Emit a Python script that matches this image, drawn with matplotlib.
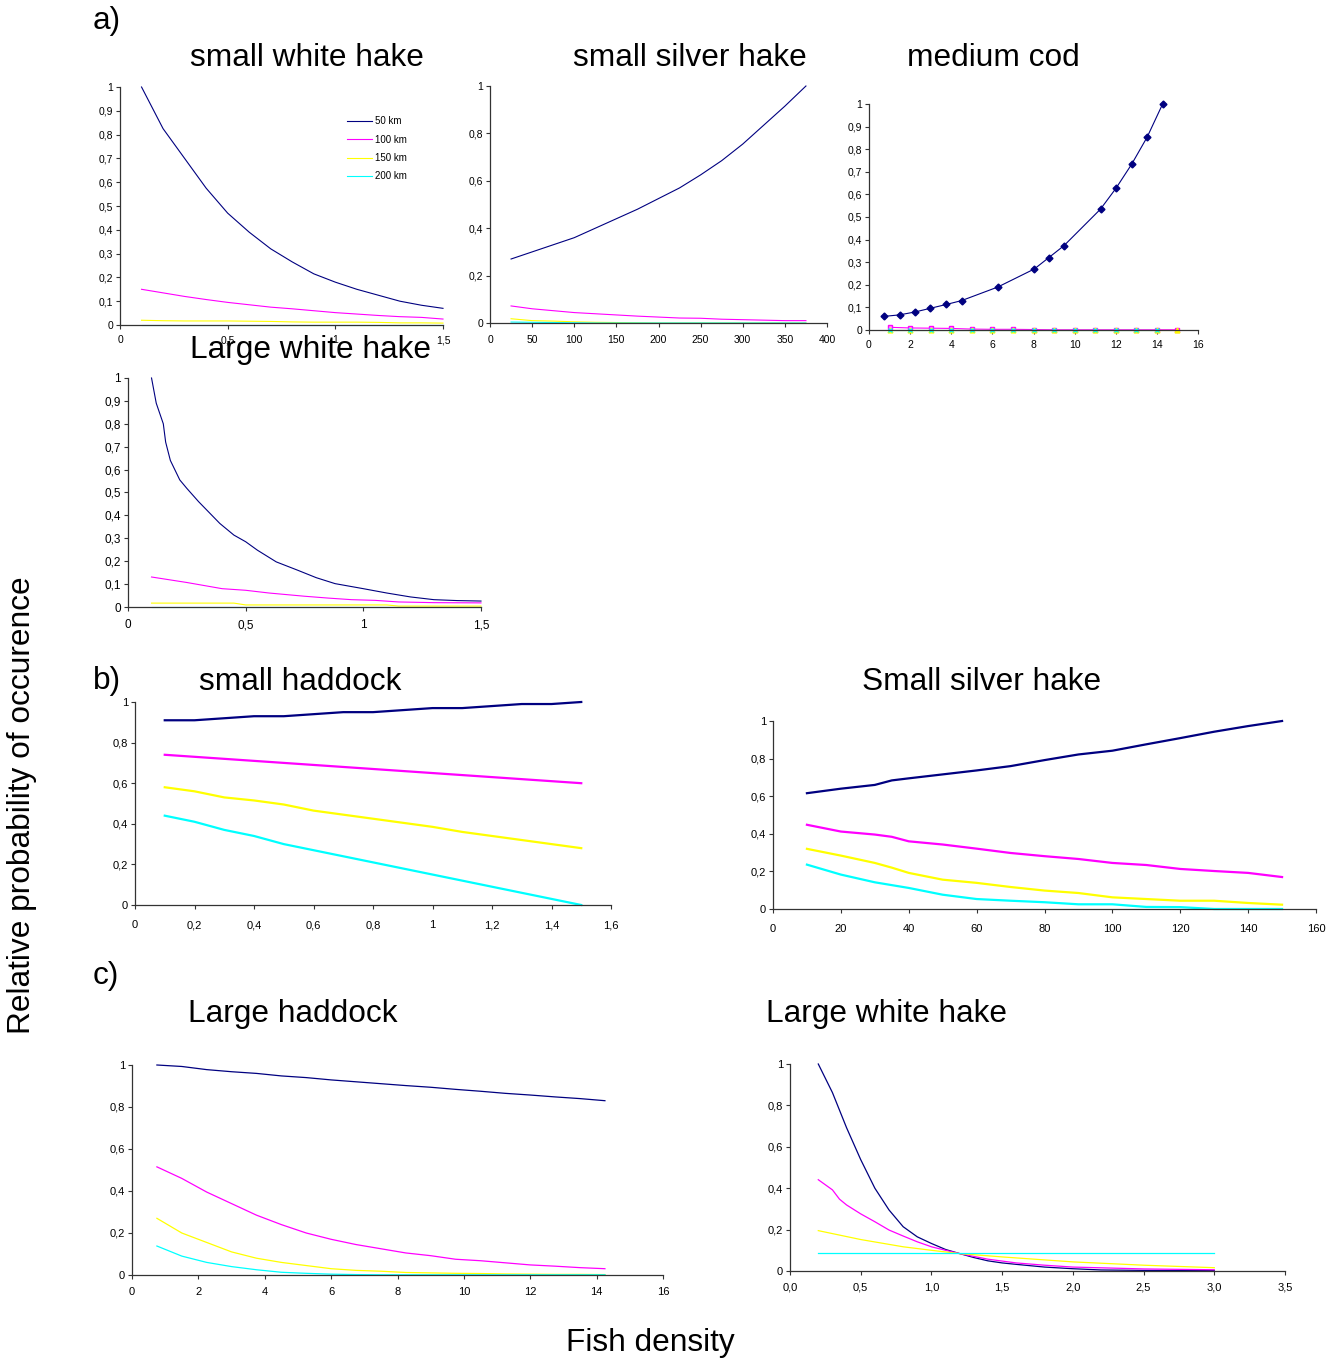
"""
Relative probability of occurrence vs fish density, redrawn as eight panels.
"""
import matplotlib
matplotlib.use('Agg')
import matplotlib.pyplot as plt
from matplotlib.ticker import FuncFormatter, MultipleLocator

plt.rcParams['font.family'] = ['Liberation Sans', 'DejaVu Sans']

W, H = 1334, 1360
NAVY, MAG, YEL, CYAN = '#000080', '#FF00FF', '#FFFF00', '#00FFFF'
AXC = '#333333'
labels = ['50 km', '100 km', '150 km', '200 km']

# a) small white hake
swh_x = [0.1, 0.2, 0.3, 0.4, 0.5, 0.6, 0.7, 0.8, 0.9, 1.0, 1.1, 1.2, 1.3, 1.4, 1.5]
swh_50 = [1.0, 0.825, 0.70, 0.575, 0.47, 0.39, 0.32, 0.265, 0.215, 0.18, 0.15, 0.125, 0.10, 0.083, 0.07]
swh_100 = [0.15, 0.135, 0.12, 0.107, 0.095, 0.085, 0.075, 0.068, 0.06, 0.052, 0.046, 0.04, 0.035, 0.032, 0.025]
swh_150 = [0.02, 0.018, 0.017, 0.017, 0.017, 0.016, 0.015, 0.013, 0.012, 0.012, 0.012, 0.011, 0.009, 0.009, 0.008]
swh_200 = [0.002, 0.002, 0.002, 0.002, 0.002, 0.002, 0.002, 0.002, 0.002, 0.002, 0.002, 0.002, 0.002, 0.002, 0.002]

# a) small silver hake
ssh_x = [25, 50, 75, 100, 125, 150, 175, 200, 225, 250, 275, 300, 325, 350, 375]
ssh_50 = [0.27, 0.30, 0.33, 0.36, 0.40, 0.44, 0.48, 0.525, 0.57, 0.625, 0.685, 0.755, 0.835, 0.915, 1.0]
ssh_100 = [0.072, 0.06, 0.052, 0.044, 0.039, 0.034, 0.029, 0.025, 0.021, 0.02, 0.016, 0.014, 0.012, 0.01, 0.01]
ssh_150 = [0.018, 0.01, 0.008, 0.005, 0.003, 0.002, 0.001, 0.0, 0.0, 0.0, 0.0, 0.0, 0.0, 0.0, 0.0]
ssh_200 = [0.004, 0.003, 0.002, 0.001, 0.0, 0.0, 0.0, 0.0, 0.0, 0.0, 0.0, 0.0, 0.0, 0.0, 0.0]

# a) medium cod
cod_x50 = [0.71, 1.49, 2.25, 2.98, 3.76, 4.5, 6.26, 8.04, 8.74, 9.48, 11.26, 12.01, 12.77, 13.53, 14.28]
cod_50 = [0.06, 0.067, 0.08, 0.096, 0.113, 0.13, 0.19, 0.27, 0.32, 0.373, 0.535, 0.627, 0.733, 0.854, 1.0]
cod_x = [1, 2, 3, 4, 5, 6, 7, 8, 9, 10, 11, 12, 13, 14, 15]
cod_100 = [0.012, 0.009, 0.008, 0.007, 0.004, 0.003, 0.003, 0.002, 0.001, 0.001, 0.001, 0.001, 0.001, 0.001, 0.001]
cod_150 = [0.0, 0.0, 0.0, 0.0, 0.0, 0.0, 0.0, 0.0, 0.0, 0.0, 0.0, 0.0, 0.0, 0.0, 0.0]
cod_x200 = [1, 2, 3, 4, 5, 6, 7, 8, 9, 10, 11, 12, 13, 14]
cod_200 = [0.0, 0.0, 0.0, 0.0, 0.0, 0.0, 0.0, 0.0, 0.0, 0.0, 0.0, 0.0, 0.0, 0.0]

# a) Large white hake
lwh_x50 = [0.1, 0.12, 0.15, 0.16, 0.18, 0.22, 0.25, 0.3, 0.39, 0.45, 0.5, 0.55, 0.63, 0.72,
           0.8, 0.88, 1.0, 1.1, 1.2, 1.3, 1.4, 1.5]
lwh_50 = [1.0, 0.89, 0.80, 0.72, 0.64, 0.555, 0.518, 0.46, 0.365, 0.314, 0.285, 0.248, 0.197, 0.161,
          0.128, 0.102, 0.08, 0.061, 0.044, 0.032, 0.028, 0.026]
lwh_x100 = [0.1, 0.25, 0.4, 0.5, 0.6, 0.75, 0.85, 0.95, 1.05, 1.15, 1.3, 1.5]
lwh_100 = [0.131, 0.107, 0.08, 0.073, 0.061, 0.047, 0.039, 0.032, 0.029, 0.022, 0.019, 0.018]
lwh_x150 = [0.1, 0.45, 0.5, 1.1, 1.15, 1.5]
lwh_150 = [0.017, 0.017, 0.009, 0.009, 0.004, 0.004]
lwh_x200 = [0.1, 1.5]
lwh_200 = [0.001, 0.001]

# b) small haddock
shd_x = [0.1, 0.2, 0.3, 0.4, 0.5, 0.6, 0.7, 0.8, 0.9, 1.0, 1.1, 1.2, 1.3, 1.4, 1.5]
shd_50 = [0.91, 0.91, 0.92, 0.93, 0.93, 0.94, 0.95, 0.95, 0.96, 0.97, 0.97, 0.98, 0.99, 0.99, 1.0]
shd_100 = [0.74, 0.73, 0.72, 0.71, 0.70, 0.69, 0.68, 0.67, 0.66, 0.65, 0.64, 0.63, 0.62, 0.61, 0.60]
shd_150 = [0.58, 0.56, 0.53, 0.515, 0.495, 0.465, 0.445, 0.425, 0.405, 0.385, 0.36, 0.34, 0.32, 0.30, 0.28]
shd_200 = [0.44, 0.41, 0.37, 0.34, 0.30, 0.27, 0.24, 0.21, 0.18, 0.15, 0.12, 0.09, 0.06, 0.03, 0.0]

# b) Small silver hake
ssb_x = [10, 20, 30, 35, 40, 50, 60, 70, 80, 90, 100, 110, 120, 130, 140, 150]
ssb_50 = [0.616, 0.64, 0.66, 0.684, 0.695, 0.716, 0.737, 0.76, 0.792, 0.822, 0.842, 0.876, 0.909, 0.943, 0.973, 1.0]
ssb_100 = [0.448, 0.412, 0.396, 0.384, 0.36, 0.343, 0.321, 0.298, 0.281, 0.266, 0.245, 0.234, 0.213, 0.202, 0.192, 0.17]
ssb_150 = [0.32, 0.284, 0.245, 0.22, 0.192, 0.156, 0.139, 0.117, 0.098, 0.085, 0.062, 0.053, 0.044, 0.044, 0.032, 0.023]
ssb_200 = [0.236, 0.183, 0.142, 0.127, 0.112, 0.076, 0.053, 0.044, 0.036, 0.025, 0.025, 0.011, 0.01, 0.0, 0.0, 0.0]

# c) Large haddock
lhd_x = [0.75, 1.5, 2.25, 3.0, 3.75, 4.5, 5.25, 6.0, 6.75, 7.5, 8.25, 9.0, 9.75, 10.5, 11.25, 12.0, 12.75, 13.5, 14.25]
lhd_50 = [1.0, 0.993, 0.978, 0.968, 0.96, 0.948, 0.94, 0.929, 0.92, 0.911, 0.902, 0.894, 0.884, 0.875,
          0.865, 0.857, 0.848, 0.84, 0.83]
lhd_100 = [0.515, 0.46, 0.395, 0.34, 0.285, 0.24, 0.20, 0.17, 0.145, 0.125, 0.105, 0.092, 0.075, 0.068,
           0.058, 0.048, 0.042, 0.035, 0.03]
lhd_150 = [0.27, 0.2, 0.155, 0.11, 0.08, 0.06, 0.045, 0.03, 0.022, 0.018, 0.012, 0.01, 0.008, 0.007,
           0.005, 0.004, 0.003, 0.003, 0.002]
lhd_200 = [0.138, 0.09, 0.06, 0.04, 0.025, 0.013, 0.008, 0.004, 0.002, 0.001, 0.001, 0.001, 0.001, 0.001,
           0.001, 0.001, 0.001, 0.001, 0.001]

# c) Large white hake
lwc_x50 = [0.2, 0.3, 0.4, 0.5, 0.6, 0.7, 0.8, 0.9, 1.0, 1.1, 1.2, 1.3, 1.4, 1.5, 1.6, 1.8, 2.0, 2.2, 2.5, 3.0]
lwc_50 = [1.0, 0.862, 0.692, 0.538, 0.40, 0.295, 0.214, 0.165, 0.133, 0.104, 0.084, 0.065, 0.049, 0.039,
          0.032, 0.019, 0.011, 0.005, 0.003, 0.002]
lwc_x100 = [0.2, 0.3, 0.35, 0.4, 0.5, 0.6, 0.7, 0.8, 0.9, 1.0, 1.1, 1.2, 1.4, 1.6, 1.8, 2.0, 2.5, 3.0]
lwc_100 = [0.441, 0.392, 0.347, 0.319, 0.276, 0.238, 0.198, 0.169, 0.141, 0.117, 0.1, 0.084, 0.057, 0.039,
           0.028, 0.019, 0.01, 0.006]
lwc_x150 = [0.2, 0.5, 0.8, 1.0, 1.2, 1.5, 2.0, 2.5, 3.0]
lwc_150 = [0.195, 0.152, 0.117, 0.1, 0.084, 0.068, 0.044, 0.028, 0.016]
lwc_x200 = [0.2, 3.0]
lwc_200 = [0.0875, 0.0875]


def add_panel(fig, box, xmax, xstep, ystep, fs, xpad, xfmt='g'):
    """box = (left, top, right, bottom) in pixels of the reference image."""
    x0, y0, x1, y1 = box
    ax = fig.add_axes([x0 / W, 1 - y1 / H, (x1 - x0) / W, (y1 - y0) / H])
    ax.set_xlim(0, xmax)
    ax.set_ylim(0, 1)
    for s in ['top', 'right']:
        ax.spines[s].set_visible(False)
    for s in ['left', 'bottom']:
        ax.spines[s].set_color(AXC)
        ax.spines[s].set_linewidth(0.9)
    ax.xaxis.set_major_locator(MultipleLocator(xstep))
    ax.yaxis.set_major_locator(MultipleLocator(ystep))
    ax.xaxis.set_major_formatter(FuncFormatter(lambda v, p: format(v, xfmt).replace('.', ',')))
    ax.yaxis.set_major_formatter(FuncFormatter(lambda v, p: format(v, 'g').replace('.', ',')))
    ax.tick_params(length=3, width=0.8, pad=2, labelsize=fs, color=AXC)
    ax.tick_params(axis='x', pad=xpad)
    return ax


def draw(ax, series, lw, **kw):
    for (x, y), c, lab in zip(series, [NAVY, MAG, YEL, CYAN], labels):
        ax.plot(x, y, color=c, lw=lw, label=lab, clip_on=False, **kw)


def main():
    fig = plt.figure(figsize=(W / 100, H / 100), dpi=100)

    def ftext(x, y, s, **kw):
        fig.text(x / W, 1 - y / H, s, fontsize=22.8, **kw)

    # a) small white hake
    ax = add_panel(fig, (120, 87, 443, 325), 1.5, 0.5, 0.1, 7.5, 4.5)
    draw(ax, [(swh_x, swh_50), (swh_x, swh_100), (swh_x, swh_150), (swh_x, swh_200)], 0.8)
    ax.legend(loc='upper left', bbox_to_anchor=(0.703, 0.8765), frameon=False, fontsize=7,
              handlelength=2.55, handletextpad=0.3, labelspacing=0.85, borderpad=0, borderaxespad=0)

    # a) small silver hake
    ax = add_panel(fig, (490, 86, 827, 323), 400, 50, 0.2, 7.5, 5.5)
    draw(ax, [(ssh_x, ssh_50), (ssh_x, ssh_100), (ssh_x, ssh_150), (ssh_x, ssh_200)], 0.8)

    # a) medium cod
    ax = add_panel(fig, (869, 104, 1198, 330), 16, 2, 0.1, 7.5, 4.5)
    ax.plot(cod_x50, cod_50, color=NAVY, lw=0.8, marker='D', ms=3.5, clip_on=False)
    ax.plot(cod_x, cod_100, color=MAG, lw=0.8, marker='s', ms=3.5, mfc='#FF99FF', mec=MAG, clip_on=False)
    ax.plot(cod_x, cod_150, color=YEL, lw=0.8, marker='^', ms=3.5, clip_on=False)
    ax.plot(cod_x200, cod_200, color=CYAN, lw=0.8, marker='x', ms=3.5, mew=1, clip_on=False)

    # a) Large white hake
    ax = add_panel(fig, (128, 378, 481, 607), 1.5, 0.5, 0.1, 8.5, 6)
    draw(ax, [(lwh_x50, lwh_50), (lwh_x100, lwh_100), (lwh_x150, lwh_150), (lwh_x200, lwh_200)], 0.8)

    # b) small haddock
    ax = add_panel(fig, (135, 702, 611, 905), 1.6, 0.2, 0.2, 8, 8)
    draw(ax, [(shd_x, shd_50), (shd_x, shd_100), (shd_x, shd_150), (shd_x, shd_200)], 1.6)

    # b) Small silver hake
    ax = add_panel(fig, (773, 721, 1316, 909), 160, 20, 0.2, 8, 8)
    draw(ax, [(ssb_x, ssb_50), (ssb_x, ssb_100), (ssb_x, ssb_150), (ssb_x, ssb_200)], 1.6)

    # c) Large haddock
    ax = add_panel(fig, (132, 1065, 663, 1275), 16, 2, 0.2, 8, 5.5)
    draw(ax, [(lhd_x, lhd_50), (lhd_x, lhd_100), (lhd_x, lhd_150), (lhd_x, lhd_200)], 0.9)

    # c) Large white hake
    ax = add_panel(fig, (790, 1064, 1285, 1271), 3.5, 0.5, 0.2, 8, 5.5, xfmt='.1f')
    draw(ax, [(lwc_x50, lwc_50), (lwc_x100, lwc_100), (lwc_x150, lwc_150), (lwc_x200, lwc_200)], 0.9)

    # titles and shared labels
    ftext(93, 29, 'a)', ha='left', va='baseline')
    ftext(307, 66, 'small white hake', ha='center', va='baseline')
    ftext(690, 66, 'small silver hake', ha='center', va='baseline')
    ftext(993, 66, 'medium cod', ha='center', va='baseline')
    ftext(310, 358, 'Large white hake', ha='center', va='baseline')
    ftext(93, 689, 'b)', ha='left', va='baseline')
    ftext(300, 690, 'small haddock', ha='center', va='baseline')
    ftext(982, 690, 'Small silver hake', ha='center', va='baseline')
    ftext(93, 984, 'c)', ha='left', va='baseline')
    ftext(293, 1022, 'Large haddock', ha='center', va='baseline')
    ftext(887, 1022, 'Large white hake', ha='center', va='baseline')
    ftext(22, 805, 'Relative probability of occurence', ha='center', va='center', rotation=90)
    ftext(650, 1351, 'Fish density', ha='center', va='baseline')

    fig.savefig('out.png', dpi=100)
    plt.close(fig)


if __name__ == '__main__':
    main()
